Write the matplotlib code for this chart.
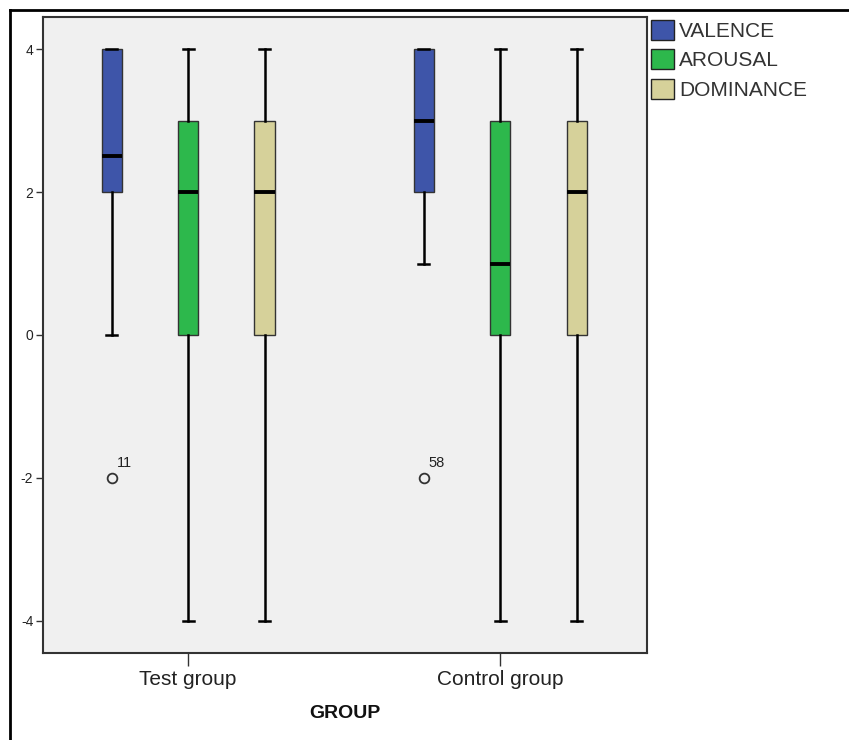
import matplotlib.pyplot as plt
from matplotlib.patches import Patch
from matplotlib.lines import Line2D

plt.rcParams['font.family'] = ['Liberation Sans', 'DejaVu Sans']

groups = ['Test group', 'Control group']
series = ['VALENCE', 'AROUSAL', 'DOMINANCE']
colors = ['#3E55A9', '#2DB84C', '#D6D19A']

# five-number summaries per group, per series: (whislo, q1, med, q3, whishi)
test_stats = [(0, 2, 2.5, 4, 4), (-4, 0, 2, 3, 4), (-4, 0, 2, 3, 4)]
control_stats = [(1, 2, 3, 4, 4), (-4, 0, 1, 3, 4), (-4, 0, 2, 3, 4)]
# outliers: (group index, series index, value, case label)
outliers = [(0, 0, -2, '11'), (1, 0, -2, '58')]

fig = plt.figure(figsize=(8.49, 7.40), dpi=100)
ax = fig.add_axes([43 / 849, 1 - 653 / 740, 604 / 849, 636 / 740])
ax.set_facecolor('#F0F0F0')

offsets = [-0.245, 0, 0.245]
for gi, stats in enumerate([test_stats, control_stats]):
    for si, s in enumerate(stats):
        fl = [o[2] for o in outliers if o[0] == gi and o[1] == si]
        d = dict(whislo=s[0], q1=s[1], med=s[2], q3=s[3], whishi=s[4], fliers=fl)
        ax.bxp([d], positions=[gi + offsets[si]], widths=0.065, patch_artist=True,
               showfliers=True,
               boxprops=dict(facecolor=colors[si], edgecolor='#333333', linewidth=1),
               medianprops=dict(color='black', linewidth=2.8),
               whiskerprops=dict(color='black', linewidth=1.8),
               capprops=dict(color='black', linewidth=1.8),
               capwidths=0.035,
               flierprops=dict(marker='o', markersize=7, markerfacecolor='none',
                               markeredgecolor='#333333', markeredgewidth=1.3))

for gi, si, v, lab in outliers:
    ax.text(gi + offsets[si] + 0.016, v + 0.11, lab, fontsize=10.5, color='#222222',
            ha='left', va='bottom')

ax.set_xlim(-0.465, 1.47)
ax.set_ylim(-4.45, 4.45)
ax.set_xticks([0, 1])
ax.set_xticklabels(groups, fontsize=15, color='#222222')
ax.set_yticks([-4, -2, 0, 2, 4])
ax.set_yticklabels(['-4', '-2', '0', '2', '4'], fontsize=10, color='#222222')
ax.tick_params(axis='y', length=5, width=1, color='#333333', pad=2)
ax.tick_params(axis='x', length=9, width=1, color='#333333', pad=3)
for sp in ax.spines.values():
    sp.set_color('#333333')
    sp.set_linewidth(1.5)
ax.set_xlabel('GROUP', fontsize=14, fontweight='bold', labelpad=12, color='#111111')

handles = [Patch(facecolor=c, edgecolor='#222222', linewidth=1) for c in colors]
fig.legend(handles, series, loc='upper left', bbox_to_anchor=(651 / 849, 1 - 20 / 740),
           frameon=False, fontsize=15, handlelength=1.1, handleheight=1.1,
           handletextpad=0.25, labelspacing=0.4, borderpad=0, borderaxespad=0,
           labelcolor='#333333')

# outer frame (top and left edges visible)
fig.add_artist(Line2D([10 / 849, 10 / 849], [0, 1 - 10 / 740], transform=fig.transFigure,
                      color='black', linewidth=2))
fig.add_artist(Line2D([10 / 849, 1], [1 - 10 / 740, 1 - 10 / 740], transform=fig.transFigure,
                      color='black', linewidth=2))

fig.savefig('out.png', dpi=100)
